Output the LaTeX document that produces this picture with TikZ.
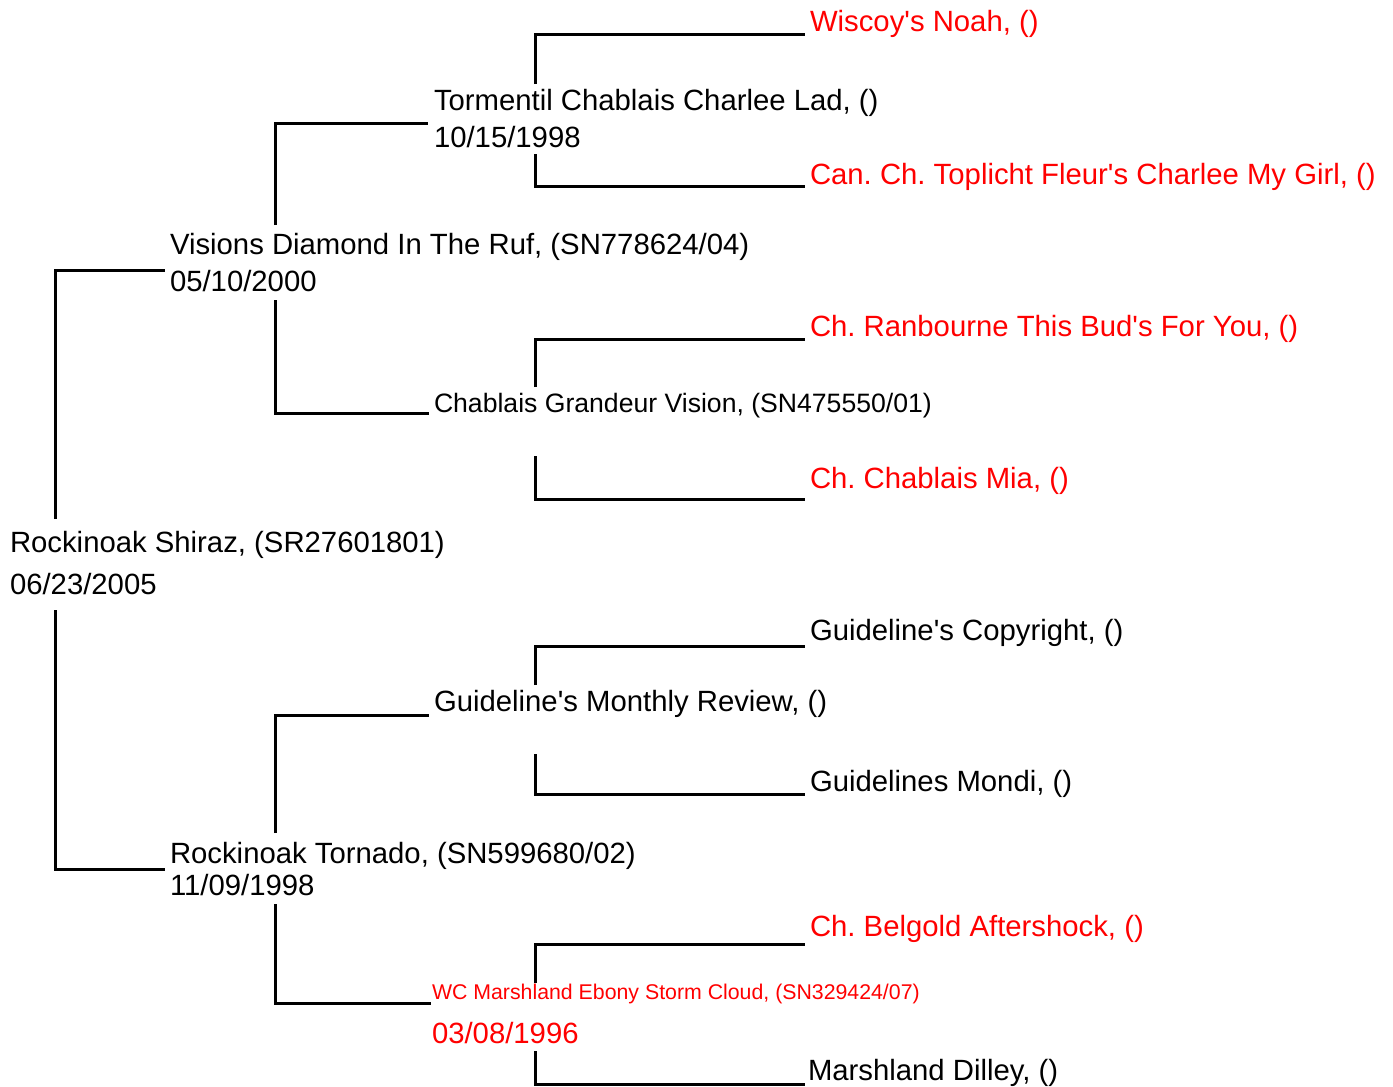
\documentclass[tikz,border=0pt]{standalone}
\usepackage{fontspec}
\setmainfont{Liberation Sans}
\frenchspacing
\definecolor{pedred}{RGB}{255,0,0}
\newcommand{\ap}{\textquotesingle}
\tikzset{
  lbl/.style={anchor=base west, inner sep=0pt, outer sep=0pt, font=\fontsize{29.3}{35}\selectfont},
  lblsmall/.style={lbl, font=\fontsize{26.6}{32}\selectfont},
  lbltiny/.style={lbl, font=\fontsize{21.3}{26}\selectfont},
  hot/.style={text=pedred},
  conn/.style={draw=black, line width=3pt, line cap=butt, line join=miter}
}
\begin{document}
\begin{tikzpicture}[x=1pt,y=-1pt]
\useasboundingbox (0,0) rectangle (1393,1087);
% generation 0
\node[lbl] (root) at (10,552) {Rockinoak Shiraz, (SR27601801)};
\node[lbl] (rootd) at (10,594) {06/23/2005};
% generation 1
\node[lbl] (sire) at (170,254) {Visions Diamond In The Ruf, (SN778624/04)};
\node[lbl] (sired) at (170,291) {05/10/2000};
\node[lbl] (dam) at (170,863) {Rockinoak Tornado, (SN599680/02)};
\node[lbl] (damd) at (170,895) {11/09/1998};
% generation 2
\node[lbl] (ss) at (434,110) {Tormentil Chablais Charlee Lad, ()};
\node[lbl] (ssd) at (434,147) {10/15/1998};
\node[lblsmall] (sd) at (434,412) {Chablais Grandeur Vision, (SN475550/01)};
\node[lbl] (ds) at (434,711) {Guideline\ap s Monthly Review, ()};
\node[lbltiny,hot] (dd) at (432,999) {WC Marshland Ebony Storm Cloud, (SN329424/07)};
\node[lbl,hot] (ddd) at (432,1043) {03/08/1996};
% generation 3
\node[lbl,hot] (sss) at (810,31) {Wiscoy\ap s Noah, ()};
\node[lbl,hot] (ssdm) at (810,184) {Can. Ch. Toplicht Fleur\ap s Charlee My Girl, ()};
\node[lbl,hot] (sds) at (810,336) {Ch. Ranbourne This Bud\ap s For You, ()};
\node[lbl,hot] (sdd) at (810,488) {Ch. Chablais Mia, ()};
\node[lbl] (dss) at (810,640) {Guideline\ap s Copyright, ()};
\node[lbl] (dsd) at (810,791) {Guidelines Mondi, ()};
\node[lbl,hot] (dds) at (810,936) {Ch. Belgold Aftershock, ()};
\node[lbl] (ddm) at (808,1080) {Marshland Dilley, ()};
% connector end points
\coordinate (r1) at (55,519);   \coordinate (r1e) at (165,270);
\coordinate (r2) at (55,610);   \coordinate (r2e) at (165,869);
\coordinate (a1) at (275,225);  \coordinate (a1e) at (428,123);
\coordinate (a2) at (275,300);  \coordinate (a2e) at (429,413);
\coordinate (b1) at (275,833);  \coordinate (b1e) at (429,715);
\coordinate (b2) at (275,904);  \coordinate (b2e) at (431,1003);
\coordinate (c1) at (535,84);   \coordinate (c1e) at (805,34);
\coordinate (c2) at (535,154);  \coordinate (c2e) at (805,186);
\coordinate (d1) at (535,387);  \coordinate (d1e) at (805,339);
\coordinate (d2) at (535,456);  \coordinate (d2e) at (805,499);
\coordinate (e1) at (535,685);  \coordinate (e1e) at (805,646);
\coordinate (e2) at (535,754);  \coordinate (e2e) at (805,794);
\coordinate (f1) at (535,983);  \coordinate (f1e) at (805,944);
\coordinate (f2) at (535,1051); \coordinate (f2e) at (805,1084);
% connectors
\foreach \p in {r1,r2,a1,a2,b1,b2,c1,c2,d1,d2,e1,e2,f1,f2}
  \draw[conn] (\p) |- (\p e);
\end{tikzpicture}
\end{document}
